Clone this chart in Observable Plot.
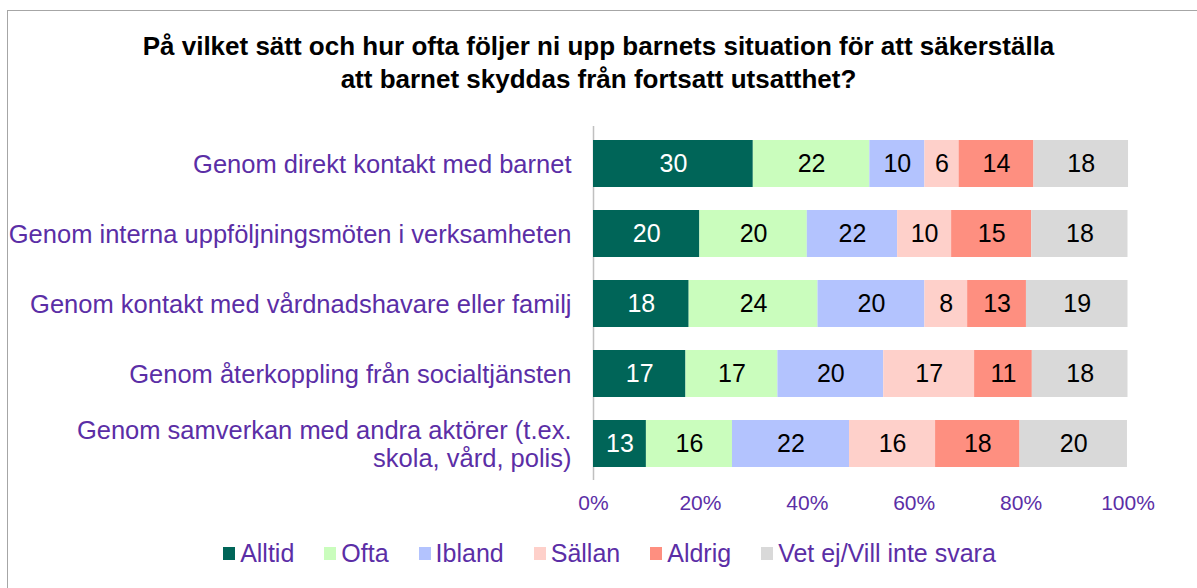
<!DOCTYPE html>
<html>
<head>
<meta charset="utf-8">
<script src="https://cdn.jsdelivr.net/npm/d3@7"></script>
<script src="https://cdn.jsdelivr.net/npm/@observablehq/plot@0.6"></script>
<style>
  html, body { margin: 0; padding: 0; background: #fff; }
  body { width: 1197px; height: 588px; position: relative; overflow: hidden; font-family: "Liberation Sans", Arial, sans-serif; }
  #frame { position: absolute; left: 7px; top: 10px; width: 1300px; height: 700px; border-top: 1.3px solid #a6a6a6; border-left: 1.3px solid #a6a6a6; pointer-events: none; }
  #title { height: 100px; box-sizing: border-box; padding-top: 30px; text-align: center; font-weight: bold; font-size: 26px; line-height: 33px; color: #000; padding-left: 0; }
  #chart svg { display: block; }
  #legend { height: 56px; display: flex; justify-content: center; align-items: center; gap: 30px; font-size: 25px; color: #5b2ea6; padding-left: 22px; }
  .item { display: flex; align-items: center; gap: 5px; }
  .sw { width: 12px; height: 13px; display: inline-block; }
</style>
</head>
<body>
<div id="frame"></div>
<div id="title">På vilket sätt och hur ofta följer ni upp barnets situation för att säkerställa<br>att barnet skyddas från fortsatt utsatthet?</div>
<div id="chart"></div>
<div id="legend"></div>
<script>
// Categories (top to bottom)
const categories = [
  "Genom direkt kontakt med barnet",
  "Genom interna uppföljningsmöten i verksamheten",
  "Genom kontakt med vårdnadshavare eller familj",
  "Genom återkoppling från socialtjänsten",
  "Genom samverkan med andra aktörer (t.ex.\nskola, vård, polis)"
];
const series = ["Alltid", "Ofta", "Ibland", "Sällan", "Aldrig", "Vet ej/Vill inte svara"];
const colors = ["#006558", "#cafdbd", "#b3c3fe", "#fed0ca", "#fe8f80", "#d9d9d9"];

// Bar lengths (share of 100%)
const alltid = [29.9, 19.9, 17.9, 17.3, 9.9];
const ofta   = [21.8, 20.1, 24.1, 17.2, 16.1];
const ibland = [10.3, 16.9, 20.0, 19.8, 21.9];
const sallan = [6.4, 10.1, 8.0, 17.0, 16.1];
const aldrig = [14.0, 15.0, 11.0, 10.8, 15.8];
const vetej  = [17.7, 18.0, 19.0, 17.9, 20.1];

// Data labels as printed
const alltidLabels = [30, 20, 18, 17, 13];
const oftaLabels   = [22, 20, 24, 17, 16];
const iblandLabels = [10, 22, 20, 20, 22];
const sallanLabels = [6, 10, 8, 17, 16];
const aldrigLabels = [14, 15, 13, 11, 18];
const vetejLabels  = [18, 18, 19, 18, 20];

const xTicks = [0, 20, 40, 60, 80, 100];

const valueSets = [alltid, ofta, ibland, sallan, aldrig, vetej];
const labelSets = [alltidLabels, oftaLabels, iblandLabels, sallanLabels, aldrigLabels, vetejLabels];

const data = [];
categories.forEach((cat, i) => {
  series.forEach((s, j) => {
    data.push({cat, series: s, value: valueSets[j][i], label: labelSets[j][i]});
  });
});

const purple = "#5b2ea6";
const font = '"Liberation Sans", Arial, sans-serif';

const chart = Plot.plot({
  width: 1197,
  height: 425,
  marginLeft: 593,
  marginRight: 69.5,
  marginTop: 26,
  marginBottom: 45,
  style: {fontFamily: font, background: "transparent", overflow: "visible"},
  x: {domain: [0, 100], label: null},
  y: {domain: categories, axis: null, paddingInner: 0.333, paddingOuter: 0.167},
  color: {domain: series, range: colors},
  marks: [
    Plot.ruleX([0], {stroke: "#c0c0c0", strokeWidth: 1.5}),
    Plot.barX(data, Plot.stackX({x: "value", y: "cat", fill: "series", order: null})),
    Plot.text(data, Plot.stackX({x: "value", y: "cat", z: "series", order: null,
      text: d => d.series === "Alltid" ? String(d.label) : null, fill: "white", fontSize: 25})),
    Plot.text(data, Plot.stackX({x: "value", y: "cat", z: "series", order: null,
      text: d => d.series !== "Alltid" ? String(d.label) : null, fill: "black", fontSize: 25})),
    Plot.axisX({ticks: xTicks, tickFormat: d => d + "%", tickSize: 0, tickPadding: 15,
      fontSize: 21, fill: purple, anchor: "bottom", label: null}),
    Plot.text(categories, {x: 0, y: d => d, text: d => d, dx: -22, textAnchor: "end",
      fontSize: 25.5, lineHeight: 1.1, fill: purple})
  ]
});
document.getElementById("chart").appendChild(chart);

const legend = document.getElementById("legend");
series.forEach((s, j) => {
  const item = document.createElement("div");
  item.className = "item";
  const sw = document.createElement("span");
  sw.className = "sw";
  sw.style.background = colors[j];
  const t = document.createElement("span");
  t.textContent = s;
  item.appendChild(sw);
  item.appendChild(t);
  legend.appendChild(item);
});
</script>
</body>
</html>
